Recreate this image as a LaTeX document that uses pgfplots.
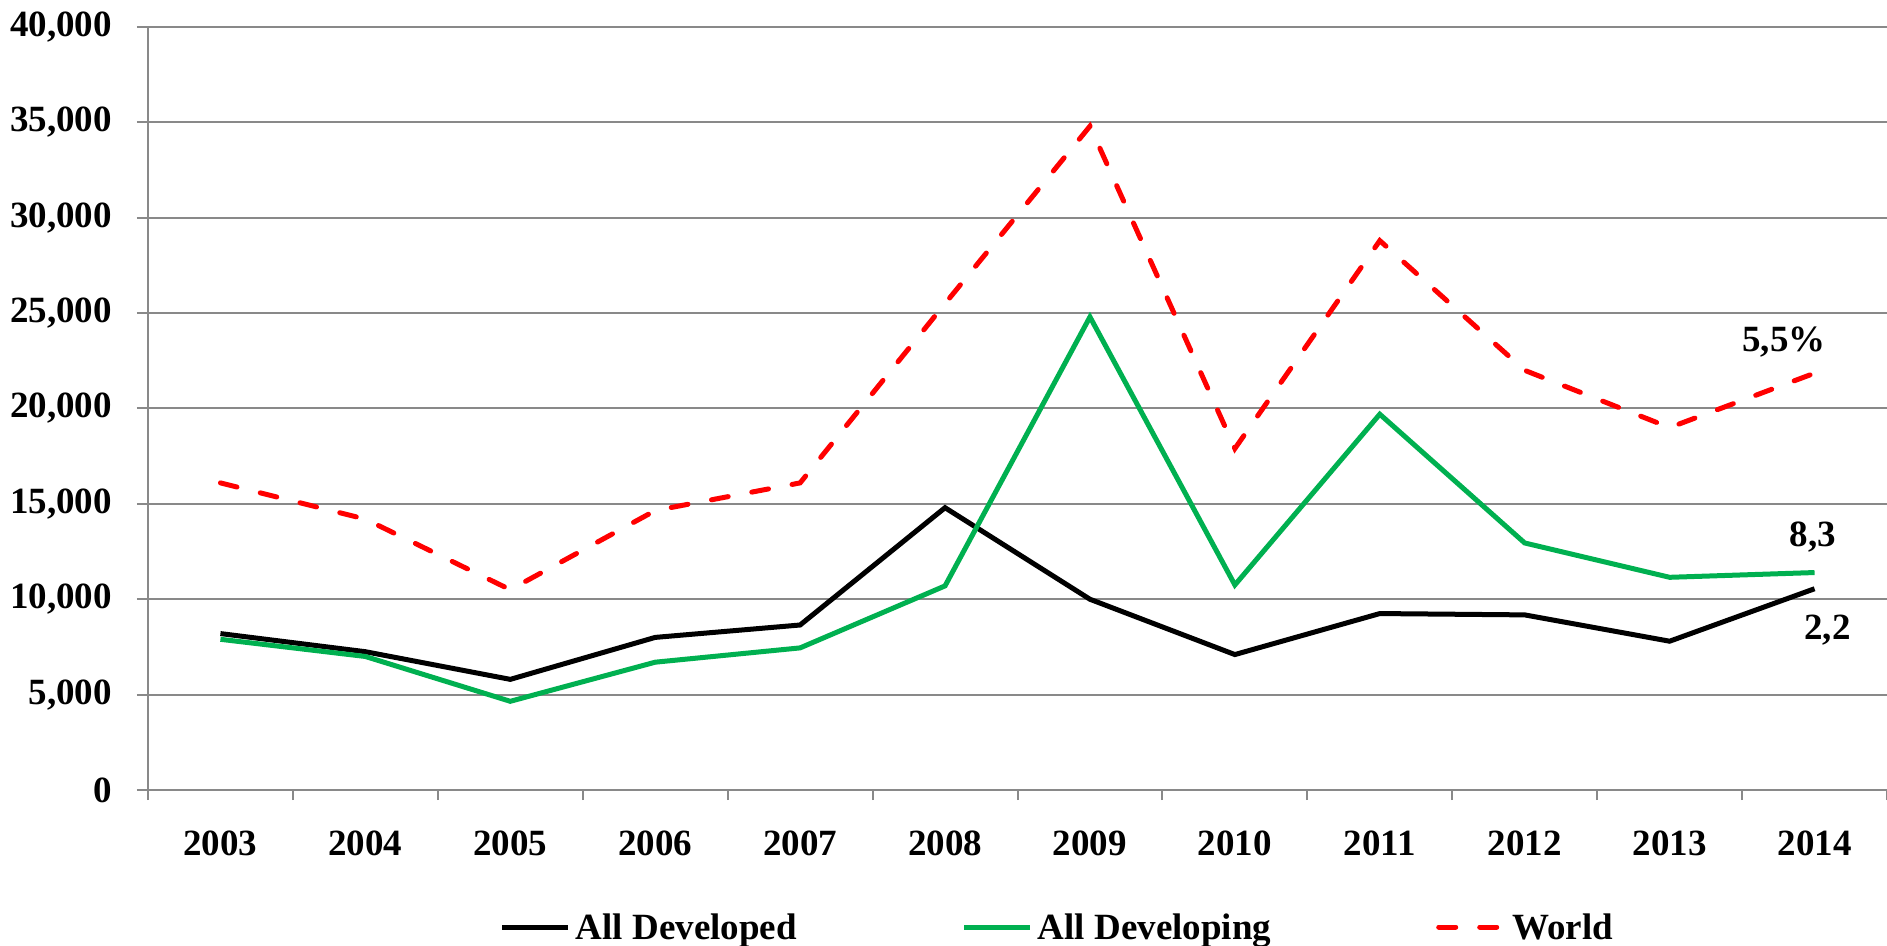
\documentclass[border=0pt]{standalone}
\usepackage{fontspec}
\setmainfont{Liberation Serif}
\usepackage{pgfplots}
\usepackage{pgfplotstable}
\pgfplotsset{compat=1.18}
\definecolor{exgreen}{HTML}{00B050}
\definecolor{gridgray}{HTML}{898989}
\pgfplotstableread{
x dev devg world
0 8200 7900 16100
1 7250 7000 14200
2 5800 4650 10500
3 8000 6700 14650
4 8650 7450 16100
5 14800 10700 25500
6 10000 24800 34800
7 7100 10750 17900
8 9250 19700 28800
9 9180 12950 22000
10 7800 11150 19000
11 10550 11400 21850
}\datatable
\begin{document}
\begin{tikzpicture}[font=\fontsize{37bp}{44bp}\selectfont\bfseries]
\begin{axis}[
  scale only axis, width=1739bp, height=763bp,
  at={(0,0)}, anchor=south west,
  xmin=-0.5, xmax=11.5, ymin=0, ymax=40000,
  scaled y ticks=false,
  axis x line*=bottom, axis y line*=left,
  axis line style={gridgray, line width=2bp, -},
  ymajorgrids, grid style={gridgray, line width=2bp},
  ytick={0,5000,10000,15000,20000,25000,30000,35000,40000},
  yticklabels={0,{5,000},{10,000},{15,000},{20,000},{25,000},{30,000},{35,000},{40,000}},
  xtick={0,1,2,3,4,5,6,7,8,9,10,11},
  xticklabels={2003,2004,2005,2006,2007,2008,2009,2010,2011,2012,2013,2014},
  minor xtick={-0.5,0.5,1.5,2.5,3.5,4.5,5.5,6.5,7.5,8.5,9.5,10.5,11.5},
  tick align=outside,
  major tick length=11bp, minor tick length=10bp,
  major x tick style={draw=none},
  ytick style={gridgray, line width=2bp},
  minor x tick style={gridgray, line width=2bp},
  yticklabel style={anchor=east, inner sep=0pt, xshift=-25bp},
  xticklabel style={anchor=north, inner sep=0pt, yshift=-30bp},
  clip=false,
  legend columns=3,
  legend style={draw=none, fill=none, inner sep=0pt, outer sep=0pt,
    at={(axis description cs:0.2024,-0.1796)}, anchor=west,
    nodes={inner sep=5bp},
    /tikz/every even column/.append style={column sep=160bp}},
  legend image code/.code={\draw[#1] (0bp,0bp) -- (66bp,0bp);},
]
\addplot[black, line width=5bp] table[x=x, y=dev] {\datatable};
\addlegendentry{All Developed}
\addplot[exgreen, line width=5bp] table[x=x, y=devg] {\datatable};
\addlegendentry{All Developing}
\addplot[red, line width=5bp, line cap=round, dash pattern=on 17bp off 24bp] table[x=x, y=world] {\datatable};
\addlegendentry{World}
\node at (axis cs:10.79,23486) {5,5\%};
\node at (axis cs:10.99,13263) {8,3};
\node at (axis cs:11.09,8388) {2,2};
\end{axis}
\pgfresetboundingbox
\useasboundingbox (-148bp,-156bp) rectangle (1739bp,790bp);
\end{tikzpicture}
\end{document}
